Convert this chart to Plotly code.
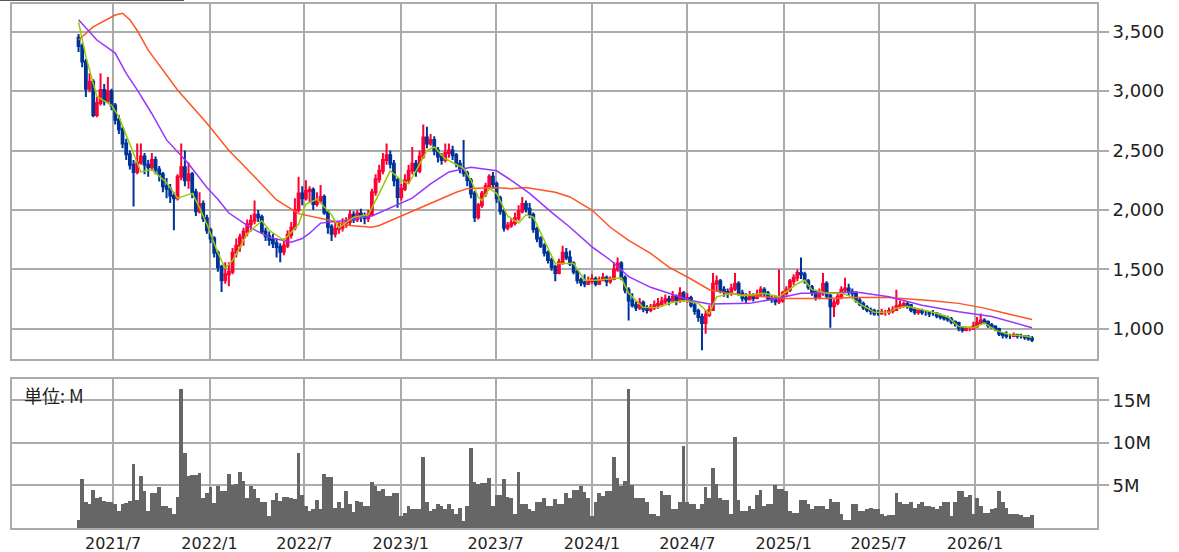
import pandas as pd
import plotly.graph_objects as go
from plotly.subplots import make_subplots

# weekly bars, first week starting 2021-04-26
start_date = "2021-04-26"

price_open = [
    3450, 3380, 3250, 3020, 3080, 2800, 2900, 3010, 2920, 3000,
    2880, 2760, 2680, 2560, 2470, 2380, 2320, 2400, 2450, 2380,
    2360, 2420, 2340, 2300, 2200, 2180, 2120, 2100, 2280, 2360,
    2250, 2300, 2150, 1990, 2050, 1930, 1830, 1760, 1640, 1520,
    1410, 1460, 1480, 1640, 1700, 1770, 1820, 1880, 1910, 1960,
    1940, 1820, 1780, 1750, 1720, 1690, 1650, 1700, 1790, 1850,
    2000, 2140, 2100, 2160, 2170, 2050, 2080, 2110, 1980, 1860,
    1800, 1840, 1850, 1880, 1900, 1960, 1920, 1970, 1950, 1930,
    1960, 2150, 2260, 2330, 2420, 2460, 2390, 2250, 2110, 2180,
    2250, 2330, 2390, 2330, 2450, 2610, 2560, 2590, 2500, 2450,
    2420, 2480, 2500, 2460, 2390, 2350, 2310, 2250, 2140, 1940,
    2040, 2140, 2200, 2280, 2220, 2100, 1990, 1850, 1870, 1890,
    1930, 1990, 2050, 2010, 1960, 1840, 1760, 1700, 1640, 1580,
    1520, 1470, 1560, 1640, 1600, 1550, 1480, 1410, 1390, 1380,
    1400, 1420, 1380, 1410, 1430, 1400, 1420, 1500, 1550, 1430,
    1330, 1240, 1200, 1180, 1220, 1170, 1160, 1180, 1200, 1210,
    1230, 1250, 1240, 1270, 1240, 1300, 1250, 1260, 1200, 1150,
    1100, 1050, 1120, 1160, 1380, 1400, 1330, 1310, 1300, 1340,
    1380, 1300, 1260, 1250, 1270, 1260, 1290, 1330, 1300, 1260,
    1250, 1230, 1240, 1300, 1330, 1400, 1430, 1470, 1460, 1400,
    1350, 1310, 1270, 1300, 1380, 1280, 1190, 1220, 1270, 1330,
    1340, 1310, 1300, 1240, 1210, 1180, 1160, 1150, 1130, 1130,
    1140, 1140, 1150, 1160, 1190, 1200, 1210, 1200, 1160, 1140,
    1150, 1140, 1140, 1130, 1130, 1110, 1100, 1090, 1080, 1060,
    1050, 1010, 990, 1000, 1000, 1020, 1050, 1070, 1060, 1030,
    1020, 1000, 960, 950, 940, 940, 950, 940, 940, 930,
    920,
]

price_high = [
    3480, 3400, 3270, 3150, 3100, 2950, 3150, 3060, 3120, 3020,
    2900, 2800, 2700, 2600, 2500, 2420, 2560, 2560, 2480, 2420,
    2480, 2450, 2370, 2320, 2270, 2220, 2150, 2300, 2560, 2500,
    2400, 2320, 2180, 2150, 2080, 1960, 1850, 1780, 1660, 1540,
    1560, 1560, 1680, 1760, 1800, 1850, 1920, 1960, 2080, 2000,
    1960, 1850, 1820, 1800, 1760, 1720, 1760, 1830, 1900, 2100,
    2280, 2200, 2250, 2200, 2190, 2150, 2210, 2130, 2000, 1880,
    1900, 1900, 1930, 1940, 2000, 1990, 2000, 2010, 1980, 2000,
    2180, 2300, 2380, 2480, 2560, 2500, 2420, 2270, 2220, 2300,
    2380, 2530, 2420, 2500, 2720, 2700, 2640, 2620, 2530, 2480,
    2560, 2560, 2540, 2480, 2420, 2590, 2330, 2270, 2160, 2060,
    2160, 2230, 2300, 2320, 2240, 2120, 2010, 1900, 1930, 1980,
    2040, 2110, 2080, 2060, 1980, 1860, 1780, 1720, 1660, 1600,
    1540, 1590, 1700, 1680, 1660, 1570, 1500, 1430, 1460, 1440,
    1460, 1440, 1440, 1470, 1450, 1440, 1560, 1600, 1570, 1450,
    1350, 1300, 1230, 1260, 1240, 1200, 1210, 1240, 1260, 1270,
    1290, 1280, 1320, 1290, 1350, 1320, 1300, 1280, 1220, 1170,
    1130, 1160, 1200, 1470, 1450, 1420, 1360, 1340, 1380, 1470,
    1400, 1330, 1300, 1320, 1300, 1330, 1360, 1350, 1320, 1280,
    1280, 1500, 1320, 1360, 1420, 1460, 1500, 1600, 1480, 1420,
    1370, 1330, 1340, 1470, 1400, 1300, 1250, 1300, 1360, 1430,
    1380, 1340, 1320, 1260, 1230, 1200, 1180, 1170, 1160, 1170,
    1160, 1180, 1190, 1330, 1240, 1230, 1230, 1210, 1180, 1170,
    1170, 1160, 1150, 1160, 1140, 1130, 1120, 1110, 1100, 1070,
    1060, 1020, 1020, 1020, 1060, 1100, 1130, 1090, 1070, 1050,
    1030, 1010, 970, 980, 960, 970, 960, 960, 950, 950,
    940,
]

price_low = [
    3330, 3200, 2950, 2990, 2780, 2780, 2880, 2880, 2900, 2840,
    2720, 2640, 2520, 2420, 2340, 2030, 2300, 2380, 2300, 2280,
    2330, 2300, 2240, 2150, 2100, 2060, 1830, 2080, 2250, 2200,
    2180, 2100, 1950, 1970, 1900, 1800, 1720, 1600, 1480, 1310,
    1380, 1360, 1460, 1600, 1650, 1700, 1780, 1820, 1880, 1900,
    1800, 1740, 1700, 1680, 1600, 1560, 1620, 1680, 1760, 1830,
    1980, 2040, 2080, 2060, 2000, 2030, 2060, 1960, 1800, 1740,
    1770, 1800, 1820, 1850, 1870, 1890, 1900, 1900, 1880, 1900,
    1950, 2120, 2230, 2300, 2380, 2350, 2200, 2020, 2080, 2160,
    2220, 2300, 2280, 2310, 2430, 2520, 2540, 2460, 2400, 2380,
    2400, 2440, 2420, 2360, 2310, 2280, 2200, 2100, 1900, 1920,
    2020, 2110, 2170, 2180, 2060, 1960, 1820, 1830, 1850, 1870,
    1910, 1970, 1980, 1930, 1810, 1730, 1680, 1610, 1550, 1490,
    1400, 1460, 1540, 1580, 1530, 1460, 1380, 1360, 1350, 1370,
    1380, 1360, 1370, 1400, 1360, 1380, 1410, 1480, 1410, 1300,
    1070, 1180, 1150, 1160, 1140, 1130, 1140, 1160, 1170, 1190,
    1210, 1200, 1220, 1200, 1220, 1230, 1220, 1180, 1120, 1060,
    820, 960, 1100, 1150, 1320, 1300, 1270, 1260, 1280, 1320,
    1280, 1230, 1220, 1240, 1230, 1250, 1270, 1270, 1240, 1220,
    1200, 1210, 1220, 1280, 1310, 1370, 1400, 1420, 1380, 1330,
    1280, 1240, 1250, 1280, 1250, 1010, 1100, 1200, 1250, 1300,
    1280, 1270, 1220, 1190, 1160, 1140, 1120, 1110, 1110, 1120,
    1110, 1120, 1130, 1150, 1170, 1180, 1170, 1140, 1120, 1120,
    1120, 1110, 1100, 1110, 1090, 1080, 1070, 1060, 1040, 1020,
    980, 970, 980, 980, 990, 1010, 1040, 1040, 1010, 1000,
    980, 940, 920, 920, 915, 930, 920, 920, 910, 900,
    890,
]

price_close = [
    3380, 3250, 3020, 3080, 2800, 2900, 3010, 2920, 3000, 2880,
    2760, 2680, 2560, 2470, 2380, 2320, 2400, 2450, 2380, 2360,
    2420, 2340, 2300, 2200, 2180, 2120, 2100, 2280, 2360, 2250,
    2300, 2150, 1990, 2050, 1930, 1830, 1760, 1640, 1520, 1410,
    1460, 1480, 1640, 1700, 1770, 1820, 1880, 1910, 1960, 1940,
    1820, 1780, 1750, 1720, 1690, 1650, 1700, 1790, 1850, 2000,
    2140, 2100, 2160, 2170, 2050, 2080, 2110, 1980, 1860, 1800,
    1840, 1850, 1880, 1900, 1960, 1920, 1970, 1950, 1930, 1960,
    2150, 2260, 2330, 2420, 2460, 2390, 2250, 2110, 2180, 2250,
    2330, 2390, 2330, 2450, 2610, 2560, 2590, 2500, 2450, 2420,
    2480, 2500, 2460, 2390, 2350, 2310, 2250, 2140, 1940, 2040,
    2140, 2200, 2280, 2220, 2100, 1990, 1850, 1870, 1890, 1930,
    1990, 2050, 2010, 1960, 1840, 1760, 1700, 1640, 1580, 1520,
    1470, 1560, 1640, 1600, 1550, 1480, 1410, 1390, 1380, 1400,
    1420, 1380, 1410, 1430, 1400, 1420, 1500, 1550, 1430, 1330,
    1240, 1200, 1180, 1220, 1170, 1160, 1180, 1200, 1210, 1230,
    1250, 1240, 1270, 1240, 1300, 1250, 1260, 1200, 1150, 1100,
    1050, 1120, 1160, 1380, 1400, 1330, 1310, 1300, 1340, 1380,
    1300, 1260, 1250, 1270, 1260, 1290, 1330, 1300, 1260, 1250,
    1230, 1240, 1300, 1330, 1400, 1430, 1470, 1460, 1400, 1350,
    1310, 1270, 1300, 1380, 1280, 1190, 1220, 1270, 1330, 1340,
    1310, 1300, 1240, 1210, 1180, 1160, 1150, 1130, 1130, 1140,
    1140, 1150, 1160, 1190, 1200, 1210, 1200, 1160, 1140, 1150,
    1140, 1140, 1130, 1130, 1110, 1100, 1090, 1080, 1060, 1050,
    1010, 990, 1000, 1000, 1020, 1050, 1070, 1060, 1030, 1020,
    1000, 960, 950, 940, 940, 950, 940, 940, 930, 920,
    910,
]

# volume in millions of shares
volume_m = [
    1.0, 5.7, 3.1, 2.8, 4.5, 3.5, 3.7, 3.2, 3.0, 3.0,
    2.8, 2.0, 2.8, 2.9, 3.2, 7.5, 3.3, 6.1, 4.3, 2.0,
    4.1, 4.1, 4.8, 2.6, 2.6, 2.4, 1.7, 3.7, 16.3, 8.8,
    6.1, 6.2, 6.2, 6.5, 3.5, 4.1, 4.8, 2.9, 4.9, 4.3,
    4.3, 6.3, 5.0, 5.2, 6.6, 5.5, 3.5, 4.9, 4.6, 3.5,
    3.0, 3.0, 1.4, 3.3, 4.1, 3.2, 3.7, 3.7, 3.5, 3.4,
    8.8, 3.9, 2.6, 2.0, 2.2, 3.3, 2.2, 6.3, 6.0, 6.0,
    2.4, 3.0, 2.4, 4.3, 2.8, 1.9, 3.2, 3.0, 2.6, 2.6,
    5.4, 4.9, 4.3, 4.6, 3.8, 3.8, 4.1, 4.1, 1.4, 1.8,
    2.6, 2.2, 2.2, 2.2, 8.3, 3.0, 2.0, 2.2, 2.8, 2.6,
    2.2, 2.8, 2.2, 1.7, 2.4, 0.8, 2.6, 9.4, 5.4, 5.2,
    5.3, 5.3, 5.9, 2.6, 3.9, 3.9, 5.7, 3.7, 3.5, 1.6,
    6.6, 2.8, 2.8, 2.2, 2.0, 3.1, 3.1, 3.5, 2.6, 2.6,
    3.4, 2.8, 2.8, 4.1, 3.5, 4.5, 4.5, 4.9, 4.2, 3.5,
    1.4, 3.1, 4.1, 3.8, 4.3, 4.3, 8.3, 5.9, 4.9, 5.5,
    16.3, 5.1, 3.5, 3.5, 3.5, 3.0, 1.6, 1.6, 1.4, 4.3,
    3.9, 3.9, 2.2, 2.2, 3.1, 9.6, 3.0, 2.8, 2.8, 2.2,
    2.8, 4.8, 3.5, 7.0, 5.2, 3.5, 3.3, 3.3, 1.7, 10.7,
    3.3, 2.0, 2.0, 2.6, 2.2, 3.9, 4.5, 2.6, 2.8, 2.8,
    5.1, 4.6, 4.6, 4.3, 2.0, 1.8, 1.8, 3.3, 3.3, 2.8,
    2.2, 2.6, 2.6, 2.6, 2.2, 3.4, 3.0, 3.0, 1.6, 1.0,
    1.0, 2.8, 2.8, 2.0, 2.0, 2.2, 2.4, 2.2, 2.2, 1.6,
    1.4, 1.5, 1.5, 4.1, 3.0, 2.8, 2.8, 3.1, 2.4, 2.8,
    3.0, 2.6, 2.6, 2.5, 2.2, 2.6, 3.0, 3.0, 1.4, 3.0,
    4.3, 4.3, 3.7, 3.9, 1.6, 3.5, 2.6, 1.8, 1.8, 2.2,
    2.4, 4.3, 3.1, 2.4, 1.6, 1.6, 1.6, 1.5, 1.3, 1.3,
    1.5,
]

# moving averages, read at selected week numbers
ma_short_week = [0, 2, 5, 9, 11, 14, 17, 20, 24, 27, 31, 33, 35, 38, 40, 42, 46, 50, 52, 56,
                 60, 62, 65, 69, 71, 75, 79, 82, 85, 88, 90, 92, 95, 97, 100, 102, 105, 107, 109, 110,
                 112, 114, 117, 120, 122, 124, 127, 130, 131, 135, 138, 141, 145, 148, 150, 154, 158, 162, 165, 169,
                 172, 174, 178, 181, 187, 191, 196, 198, 200, 204, 208, 210, 213, 217, 221, 223, 226, 230, 233, 237,
                 240, 244, 247, 250, 254, 258, 260]
ma_short = [3580, 3290, 2955, 2880, 2785, 2560, 2320, 2340, 2230, 2100, 2140, 2020, 1880, 1640, 1510, 1575, 1800, 1910, 1830, 1745,
            1880, 2050, 2090, 1960, 1850, 1940, 1960, 2140, 2330, 2250, 2220, 2330, 2500, 2530, 2430, 2400, 2350, 2250, 2110, 2080,
            2180, 2140, 1950, 1890, 1960, 1940, 1740, 1550, 1550, 1550, 1410, 1410, 1420, 1430, 1300, 1180, 1180, 1225, 1240, 1215,
            1130, 1270, 1300, 1280, 1300, 1270, 1380, 1410, 1330, 1300, 1300, 1280, 1210, 1140, 1140, 1175, 1190, 1160, 1140, 1100,
            1020, 1010, 1050, 990, 950, 940, 930]

ma_mid_week = [0, 5, 10, 13, 16, 20, 24, 30, 35, 38, 41, 47, 52, 58, 61, 63, 66, 72, 80, 85,
               91, 96, 101, 107, 114, 118, 123, 129, 134, 140, 145, 150, 156, 161, 167, 172, 183, 191, 197, 203,
               212, 221, 230, 240, 249, 260]
ma_mid = [3600, 3430, 3320, 3150, 3010, 2810, 2590, 2390, 2190, 2090, 1975, 1850, 1770, 1730, 1760, 1805, 1890, 1910, 1950, 2020,
          2100, 2220, 2320, 2360, 2330, 2250, 2140, 1980, 1855, 1690, 1580, 1440, 1350, 1300, 1240, 1210, 1215, 1260, 1300, 1300,
          1310, 1270, 1200, 1145, 1105, 1010]

ma_long_week = [0, 4, 10, 12, 14, 16, 19, 23, 27, 35, 41, 48, 54, 60, 66, 69, 74, 80, 82, 88,
                93, 99, 103, 106, 113, 118, 122, 127, 130, 134, 140, 145, 150, 156, 161, 167, 172, 177, 183, 192,
                203, 212, 221, 226, 232, 240, 247, 253, 260]
ma_long = [3430, 3540, 3640, 3655, 3600, 3510, 3345, 3180, 3010, 2730, 2500, 2280, 2085, 1970, 1930, 1910, 1870, 1855, 1870, 1950,
           2020, 2100, 2150, 2180, 2190, 2180, 2190, 2165, 2150, 2110, 2000, 1855, 1745, 1635, 1520, 1420, 1330, 1300, 1280, 1255,
           1255, 1265, 1265, 1255, 1240, 1215, 1175, 1130, 1080]

x_tick_dates = ["2021-07-01", "2022-01-01", "2022-07-01", "2023-01-01", "2023-07-01",
                "2024-01-01", "2024-07-01", "2025-01-01", "2025-07-01", "2026-01-01"]
x_tick_text = ["2021/7", "2022/1", "2022/7", "2023/1", "2023/7",
               "2024/1", "2024/7", "2025/1", "2025/7", "2026/1"]
price_ticks = [1000, 1500, 2000, 2500, 3000, 3500]
volume_ticks = [5, 10, 15]
volume_tick_text = ["5M", "10M", "15M"]

weeks = pd.date_range(start_date, periods=len(price_close), freq="7D")

GRID = "#ababab"
FONT = "DejaVu Sans"

fig = make_subplots(rows=2, cols=1, shared_xaxes=True)

fig.add_trace(go.Candlestick(
    x=weeks, open=price_open, high=price_high, low=price_low, close=price_close,
    increasing=dict(line=dict(color="#ff0033", width=2), fillcolor="#ff0033"),
    decreasing=dict(line=dict(color="#003399", width=2), fillcolor="#003399"),
    whiskerwidth=0, hoverinfo="skip", showlegend=False,
), row=1, col=1)

for wk, vals, color in [(ma_long_week, ma_long, "#ff5522"),
                        (ma_mid_week, ma_mid, "#9933ff"),
                        (ma_short_week, ma_short, "#99cc00")]:
    fig.add_trace(go.Scatter(
        x=weeks[wk], y=vals, mode="lines",
        line=dict(color=color, width=1.5), hoverinfo="skip", showlegend=False,
    ), row=1, col=1)

fig.add_trace(go.Bar(
    x=weeks, y=volume_m, width=7 * 86400000,
    marker=dict(color="#666666", line=dict(width=0)),
    hoverinfo="skip", showlegend=False,
), row=2, col=1)

axis_common = dict(
    showgrid=True, gridcolor=GRID, gridwidth=2,
    showline=True, linecolor=GRID, linewidth=2, mirror=True,
    zeroline=False, automargin=False,
)

fig.update_xaxes(
    type="date", range=["2020-12-20", "2026-08-22"],
    tickvals=x_tick_dates, ticktext=x_tick_text, ticks="",
    rangeslider=dict(visible=False), **axis_common,
)
fig.update_xaxes(showticklabels=False, row=1, col=1)
fig.update_xaxes(showticklabels=True, tickfont=dict(family=FONT, size=16, color="#222"), row=2, col=1)

fig.update_yaxes(
    side="right", ticks="outside", ticklen=10, tickwidth=2, tickcolor=GRID,
    tickfont=dict(family=FONT, size=18, color="#222"), **axis_common,
)
fig.update_yaxes(domain=[0.3225, 1], range=[747, 3733], tickvals=price_ticks,
                 tickformat=",d", row=1, col=1)
fig.update_yaxes(domain=[0, 0.2844], range=[0, 17.5], tickvals=volume_ticks,
                 ticktext=volume_tick_text, row=2, col=1)

fig.add_annotation(
    text="単位: M", xref="paper", yref="paper", x=0.009, y=0.2529,
    xanchor="left", yanchor="middle", showarrow=False,
    font=dict(family="Noto Sans CJK JP, DejaVu Sans", size=18, color="#222"),
)

# thin dark rule across the top-left corner
fig.add_shape(type="line", xref="paper", yref="paper",
              x0=-0.0111, x1=0.1585, y0=1.0067, y1=1.0067,
              line=dict(color="#555555", width=1))

fig.update_layout(
    width=1179, height=552,
    margin=dict(l=12, r=82, t=4, b=24),
    paper_bgcolor="white", plot_bgcolor="white",
    bargap=0, showlegend=False,
)

fig.write_html("out.html", config={"displayModeBar": False},
               post_script="document.body.style.margin='0px';")
